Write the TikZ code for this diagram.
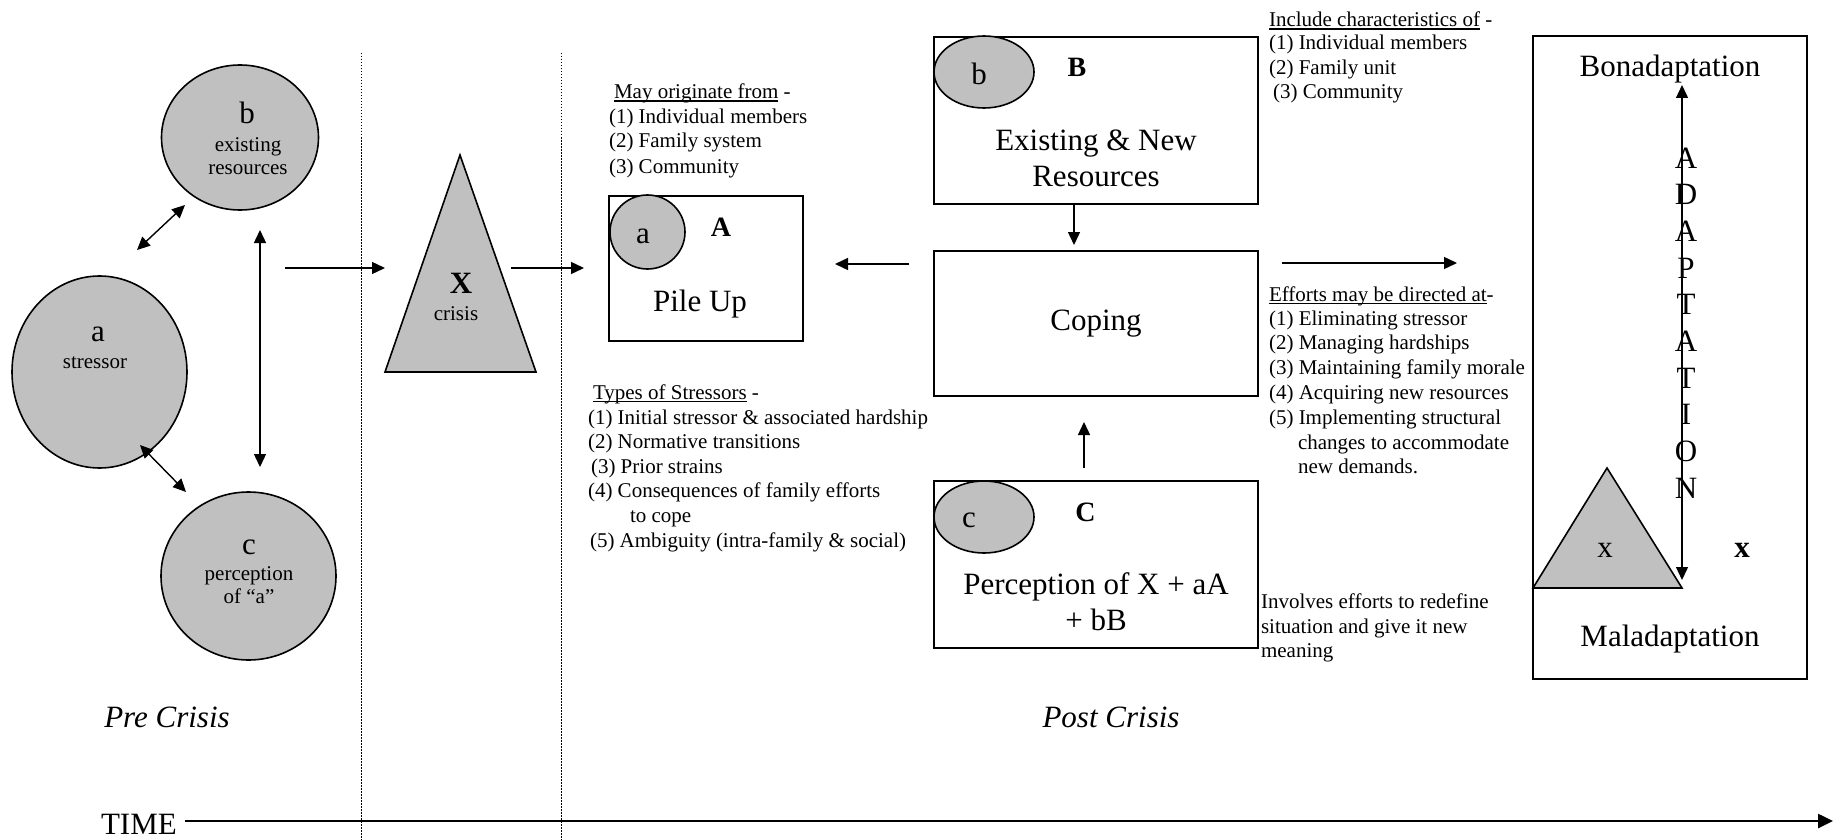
\documentclass[tikz,border=0pt]{standalone}
\usepackage{fontspec}
\setmainfont{Liberation Serif}
\usetikzlibrary{arrows.meta,shapes.geometric}
\definecolor{shade}{RGB}{192,192,192}
\newcommand{\fbig}{\fontsize{31}{37}\selectfont}
\newcommand{\fsm}{\fontsize{21}{24.5}\selectfont}
\newcommand{\flab}{\fontsize{28}{32}\selectfont\bfseries}
\newcommand{\myul}[1]{\setbox0=\hbox{#1}\rlap{\rule[-2.6pt]{\wd0}{1.1pt}}\box0\relax}
\begin{document}
\begin{tikzpicture}[x=1pt,y=-1pt,
  every node/.style={inner sep=0pt, outer sep=0pt},
  shp/.style={draw=black, line width=1.6pt, fill=shade},
  box/.style={draw=black, line width=1.6pt},
  arr/.style={line width=1.4pt, -{Triangle[length=13pt,width=12pt]}},
  darr/.style={line width=1.4pt, {Triangle[length=13pt,width=12pt]}-{Triangle[length=13pt,width=12pt]}},
  sm/.style={font=\fsm, anchor=base west},
  smc/.style={font=\fsm, anchor=base},
  bg/.style={font=\fbig, anchor=base},
  lab/.style={font=\flab, anchor=base},
  dots/.style={line width=1pt, dash pattern=on 1.5pt off 1.5pt}
]
\useasboundingbox (0,0) rectangle (1847,840);

% dotted separators
\coordinate (d1t) at (361,53); \coordinate (d1b) at (361,840);
\coordinate (d2t) at (561,53); \coordinate (d2b) at (561,840);
\draw[dots] (d1t) -- (d1b);
\draw[dots] (d2t) -- (d2b);

% ---------- Pre crisis ellipses ----------
\node[ellipse, shp, minimum width=175pt, minimum height=192pt] (ela) at (99.5,372) {};
\node[ellipse, shp, minimum width=157pt, minimum height=145pt] (elb) at (240,137.5) {};
\node[ellipse, shp, minimum width=175pt, minimum height=168pt] (elc) at (248.5,576) {};

\node[bg] (ta) at (98,341) {a};
\node[smc] (tstress) at (95,368) {stressor};
\node[bg] (tb) at (247,124) {b};
\node[smc] (texist) at (248,151) {existing};
\node[smc] (tres) at (248,174) {resources};
\node[bg] (tc) at (249,554) {c};
\node[smc] (tperc) at (249,580) {perception};
\node[smc] (tofa) at (249,603) {of “a”};

\coordinate (ab1) at (137,250); \coordinate (ab2) at (185,205);
\coordinate (bc1) at (260,230); \coordinate (bc2) at (260,467);
\coordinate (ac1) at (140,445); \coordinate (ac2) at (186,492);
\draw[darr] (ab1) -- (ab2);
\draw[darr] (bc1) -- (bc2);
\draw[darr] (ac1) -- (ac2);

% ---------- crisis triangle ----------
\draw[shp, line join=miter] (460,155) -- (536,372) -- (385,372) -- cycle;
\node[font=\fbig\bfseries, anchor=base] (tX) at (461,293) {X};
\node[smc] (tcrisis) at (456,320) {crisis};

\coordinate (in1) at (285,268); \coordinate (in2) at (385,268);
\coordinate (out1) at (511,268); \coordinate (out2) at (584,268);
\draw[arr] (in1) -- (in2);
\draw[arr] (out1) -- (out2);

% ---------- Box A ----------
\node[box, minimum width=194pt, minimum height=145pt] (boxA) at (706,268.5) {};
\node[ellipse, shp, minimum width=75pt, minimum height=74pt] (sa) at (647.5,232) {};
\node[bg] (tsa) at (643,243) {a};
\node[lab] (tA) at (721,236) {A};
\node[bg] (tpile) at (700,311) {Pile Up};

\node[sm] (or0) at (614,99) {\myul{May originate from} -};
\node[sm] (or1) at (609,123.5) {(1) Individual members};
\node[sm] (or2) at (609,148) {(2) Family system};
\node[sm] (or3) at (609,173) {(3) Community};

\node[sm] (ty0) at (593,399) {\myul{Types of Stressors} -};
\node[sm] (ty1) at (588,424) {(1) Initial stressor \& associated hardship};
\node[sm] (ty2) at (588,448) {(2) Normative transitions};
\node[sm] (ty3) at (591,473) {(3) Prior strains};
\node[sm] (ty4) at (588,497) {(4) Consequences of family efforts};
\node[sm] (ty4b) at (630,522) {to cope};
\node[sm] (ty5) at (590,547) {(5) Ambiguity (intra-family \& social)};

% ---------- Boxes B, Coping, C ----------
\node[box, minimum width=324pt, minimum height=167pt] (boxB) at (1096,120.5) {};
\node[ellipse, shp, minimum width=100pt, minimum height=72pt] (sb) at (984,72) {};
\node[bg] (tsb) at (979,85) {b};
\node[lab] (tB) at (1077,77) {B};
\node[bg] (tex1) at (1096,150) {Existing \& New};
\node[bg] (tex2) at (1096,186) {Resources};

\node[box, minimum width=324pt, minimum height=145pt] (coping) at (1096,323.5) {};
\node[bg] (tcop) at (1096,330) {Coping};

\node[box, minimum width=324pt, minimum height=167pt] (boxC) at (1096,564.5) {};
\node[ellipse, shp, minimum width=100pt, minimum height=72pt] (scc) at (984,517) {};
\node[bg] (tsc) at (969,527) {c};
\node[lab] (tC) at (1085.5,521) {C};
\node[bg] (tp1) at (1096,594) {Perception of X + aA};
\node[bg] (tp2) at (1096,630) {+ bB};

\coordinate (bco1) at (1074,204); \coordinate (bco2) at (1074,245);
\coordinate (cco1) at (1084,468); \coordinate (cco2) at (1084,422);
\coordinate (coa1) at (909,264); \coordinate (coa2) at (835,264);
\coordinate (cor1) at (1282,263); \coordinate (cor2) at (1457,263);
\draw[arr] (bco1) -- (bco2);
\draw[arr] (cco1) -- (cco2);
\draw[arr] (coa1) -- (coa2);
\draw[arr] (cor1) -- (cor2);

\node[sm] (in0) at (1269,27) {\myul{Include characteristics of} -};
\node[sm] (in1t) at (1269,50) {(1) Individual members};
\node[sm] (in2t) at (1269,74.5) {(2) Family unit};
\node[sm] (in3t) at (1273,99) {(3) Community};

\node[sm] (ef0) at (1269,301) {\myul{Efforts may be directed at}-};
\node[sm] (ef1) at (1269,325) {(1) Eliminating stressor};
\node[sm] (ef2) at (1269,349) {(2) Managing hardships};
\node[sm] (ef3) at (1269,374) {(3) Maintaining family morale};
\node[sm] (ef4) at (1269,399) {(4) Acquiring new resources};
\node[sm] (ef5) at (1269,424) {(5) Implementing structural};
\node[sm] (ef5b) at (1298,449) {changes to accommodate};
\node[sm] (ef5c) at (1298,473) {new demands.};

\node[sm] (iv1) at (1261,608) {Involves efforts to redefine};
\node[sm] (iv2) at (1261,633) {situation and give it new};
\node[sm] (iv3) at (1261,657) {meaning};

% ---------- Adaptation box ----------
\node[box, minimum width=274pt, minimum height=643pt] (adbox) at (1670,357.5) {};
\node[bg] (tbon) at (1670,77) {Bonadaptation};
\node[bg] (tmal) at (1670,646) {Maladaptation};
\draw[shp, line join=miter] (1607,468) -- (1682,588) -- (1533,588) -- cycle;
\node[bg] (tx1) at (1605,557) {x};
\node[font=\fbig\bfseries, anchor=base] (tx2) at (1742,557) {x};
\coordinate (ad1) at (1682,580); \coordinate (ad2) at (1682,85);
\draw[darr] (ad1) -- (ad2);
\foreach \L [count=\i] in {A,D,A,P,T,A,T,I,O,N}
  \node[bg] (adl\i) at (1686,{168+36.7*(\i-1)}) {\L};

% ---------- Time axis ----------
\node[bg] (tpre) at (167,727) {\itshape Pre Crisis};
\node[bg] (tpost) at (1111,727) {\itshape Post Crisis};
\node[font=\fbig, anchor=base west] (ttime) at (101,834) {TIME};
\coordinate (tl1) at (185,821); \coordinate (tl2) at (1833,821);
\draw[line width=2.5pt, -{Triangle[length=15pt,width=14pt]}] (tl1) -- (tl2);
\end{tikzpicture}
\end{document}
